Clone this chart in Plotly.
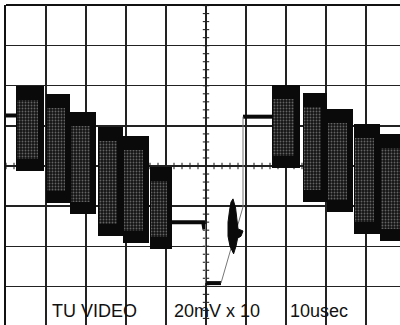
import plotly.graph_objects as go

# Oscilloscope trace of a TV video line (colour bars)
# time axis in microseconds (10 usec/div), level in screen divisions (20 mV x 10 per div)
bar_start_us = [2.5, 10.0, 16.1, 23.0, 29.25, 36.0, 66.5, 74.25, 80.25, 87.0, 93.5]
bar_end_us = [9.5, 16.1, 22.5, 29.25, 35.75, 41.5, 73.5, 80.25, 86.75, 93.5, 101.0]
bar_top_div = [2.0, 1.80, 1.35, 0.97, 0.75, -0.03, 2.02, 1.82, 1.42, 1.05, 0.80]
bar_bottom_div = [-0.12, -0.92, -1.20, -1.75, -1.92, -2.07, -0.05, -0.90, -1.15, -1.70, -1.87]

# flat levels (front porch/blanking, sync tip, back porch)
level_t = [0, 2.5, None, 41.5, 49.3, 49.6, None, 50.0, 53.75, None, 59.25, 66.5]
level_v = [1.26, 1.26, None, -1.40, -1.40, -1.58, None, -2.92, -2.92, None, 1.23, 1.23]
# fast edges (faint retrace)
edge_t = [49.9, 49.9, None, 53.75, 59.25, 59.25]
edge_v = [-1.45, -2.92, None, -2.92, -1.02, 1.23]
# colour burst envelope outline
burst_t = [56.75, 57.4, 57.75, 58.0, 59.25, 58.75, 57.9, 57.5, 56.9, 56.0, 55.5, 55.5, 55.9, 56.25, 56.75]
burst_v = [-0.82, -1.05, -1.35, -1.57, -1.62, -1.75, -1.80, -2.0, -2.19, -2.0, -1.75, -1.40, -1.10, -0.90, -0.82]

labels = ["TU VIDEO", "20mV x 10", "10usec"]
label_t = [11.0, 41.5, 70.5]

fig = go.Figure()

centers = [(a + b) / 2 for a, b in zip(bar_start_us, bar_end_us)]
widths = [b - a for a, b in zip(bar_start_us, bar_end_us)]
heights = [t - b for t, b in zip(bar_top_div, bar_bottom_div)]

fig.add_trace(go.Bar(x=centers, y=heights, base=bar_bottom_div, width=widths,
                     marker=dict(color="#0a0a0a", line=dict(width=0)), hoverinfo="skip"))
# stippled (chroma) interior
s_centers = [a + 0.40 * w for a, w in zip(bar_start_us, widths)]
s_widths = [0.74 * w for w in widths]
s_base = [b + 0.3 for b in bar_bottom_div]
s_heights = [h - 0.65 for h in heights]
fig.add_trace(go.Bar(x=s_centers, y=s_heights, base=s_base, width=s_widths,
                     marker=dict(color="#141414", line=dict(width=0),
                                 pattern=dict(shape=".", fgcolor="#b4b4b4", size=3, solidity=0.3)),
                     hoverinfo="skip"))

fig.add_trace(go.Scatter(x=level_t, y=level_v, mode="lines",
                         line=dict(color="#0a0a0a", width=4), hoverinfo="skip"))
fig.add_trace(go.Scatter(x=edge_t, y=edge_v, mode="lines",
                         line=dict(color="#777", width=1), hoverinfo="skip"))
fig.add_trace(go.Scatter(x=burst_t, y=burst_v, mode="lines", fill="toself",
                         fillcolor="#0a0a0a", line=dict(color="#0a0a0a", width=1), hoverinfo="skip"))

shapes = []
# centre graticule axes with minor ticks
shapes.append(dict(type="line", xref="x", yref="y", x0=50, x1=50, y0=-4.2, y1=4.2,
                   line=dict(color="#111", width=1.5), layer="below"))
shapes.append(dict(type="line", xref="x", yref="y", x0=0, x1=100, y0=0, y1=0,
                   line=dict(color="#111", width=1.5), layer="below"))
for i in range(-20, 21):
    v = i * 0.2
    shapes.append(dict(type="line", xref="x", yref="y", x0=49.2, x1=50.8, y0=v, y1=v,
                       line=dict(color="#111", width=1), layer="below"))
for i in range(0, 51):
    t = i * 2.0
    shapes.append(dict(type="line", xref="x", yref="y", x0=t, x1=t, y0=-0.08, y1=0.08,
                       line=dict(color="#111", width=1), layer="below"))
# top border
shapes.append(dict(type="line", xref="paper", yref="paper", x0=0, x1=1, y0=1, y1=1,
                   line=dict(color="#111", width=2), layer="below"))

annotations = [dict(x=t, y=0, xref="x", yref="paper", text=s, showarrow=False,
                    xanchor="left", yanchor="bottom", yshift=2,
                    font=dict(family="Liberation Sans, Arial, sans-serif", size=18, color="#111"))
               for s, t in zip(labels, label_t)]

fig.update_layout(
    width=400, height=325,
    margin=dict(l=6, r=0, t=5, b=0),
    paper_bgcolor="white", plot_bgcolor="white",
    barmode="overlay", bargap=0, showlegend=False,
    shapes=shapes, annotations=annotations,
    xaxis=dict(range=[0, 98.5], dtick=10, tick0=0, showgrid=True, gridcolor="#222", gridwidth=1.3,
               zeroline=False, showticklabels=False, ticks="", showline=False, fixedrange=True),
    yaxis=dict(range=[-3.965, 4.015], dtick=1, tick0=0, showgrid=True, gridcolor="#222", gridwidth=1.3,
               zeroline=False, showticklabels=False, ticks="", showline=True, linecolor="#111",
               linewidth=2, fixedrange=True),
)

fig.write_html("out.html", config={"staticPlot": True},
               post_script="document.body.style.margin='0';document.body.style.overflow='hidden';")
